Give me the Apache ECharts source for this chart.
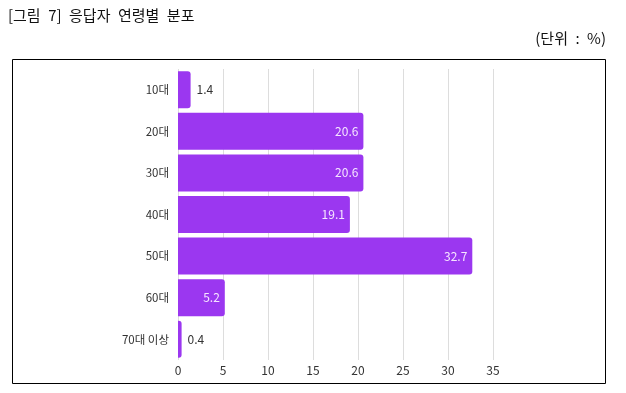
<!DOCTYPE html>
<html><head><meta charset="utf-8">
<script src="https://cdn.jsdelivr.net/npm/echarts@6/dist/echarts.min.js"></script>
<style>html,body{margin:0;padding:0;background:#fff}#c{width:626px;height:393px}</style>
</head><body><div id="c"></div>
<script>
const categories = ['10대','20대','30대','40대','50대','60대','70대 이상'];
const values = [1.4, 20.6, 20.6, 19.1, 32.7, 5.2, 0.4];
const xTicks = [0,5,10,15,20,25,30,35];

const chart = echarts.init(document.getElementById('c'), null, {renderer:'canvas'});
const font = '"Noto Sans CJK KR", "Noto Sans", sans-serif';
chart.setOption({
  animation:false,
  textStyle:{fontFamily:font},
  graphic:[
    {type:'text', left:8, top:8, style:{text:'[그림\u20027]\u2002응답자\u2002연령별\u2002분포', font:'15px "Noto Sans CJK KR"', fill:'#111'}},
    {type:'text', right:20, top:31, style:{text:'(단위\u2002:\u2002%)', font:'15px "Noto Sans CJK KR"', fill:'#111'}},
    {type:'rect', shape:{x:12.5, y:59.5, width:593, height:324}, style:{fill:'none', stroke:'#000', lineWidth:1}, z:-1}
  ],
  grid:{left:178, right:133, top:69, bottom:33, containLabel:false},
  xAxis:{type:'value', min:0, max:35, interval:5,
    axisLine:{show:false}, axisTick:{show:false},
    splitLine:{show:true, lineStyle:{color:'#dddddd'}},
    axisLabel:{color:'#333', fontSize:12, margin:4, fontFamily:font,
      formatter:v=>xTicks.includes(v)?String(v):''}},
  yAxis:{type:'category', data:categories, inverse:true,
    axisLine:{show:false}, axisTick:{show:false},
    axisLabel:{color:'#333', fontSize:11.5, margin:9, fontFamily:font}},
  series:[{type:'bar', data:values.map(v=>({value:v, label: v<3 ? {position:'right', color:'#333', distance:6} : {position:'insideRight', color:'#f6e6ff', distance:5}})),
    barCategoryGap:'11%',
    itemStyle:{color:'#9b37f0', borderRadius:[0,3,3,0]},
    label:{show:true, fontSize:12, fontFamily:font}
  }]
});
</script></body></html>
